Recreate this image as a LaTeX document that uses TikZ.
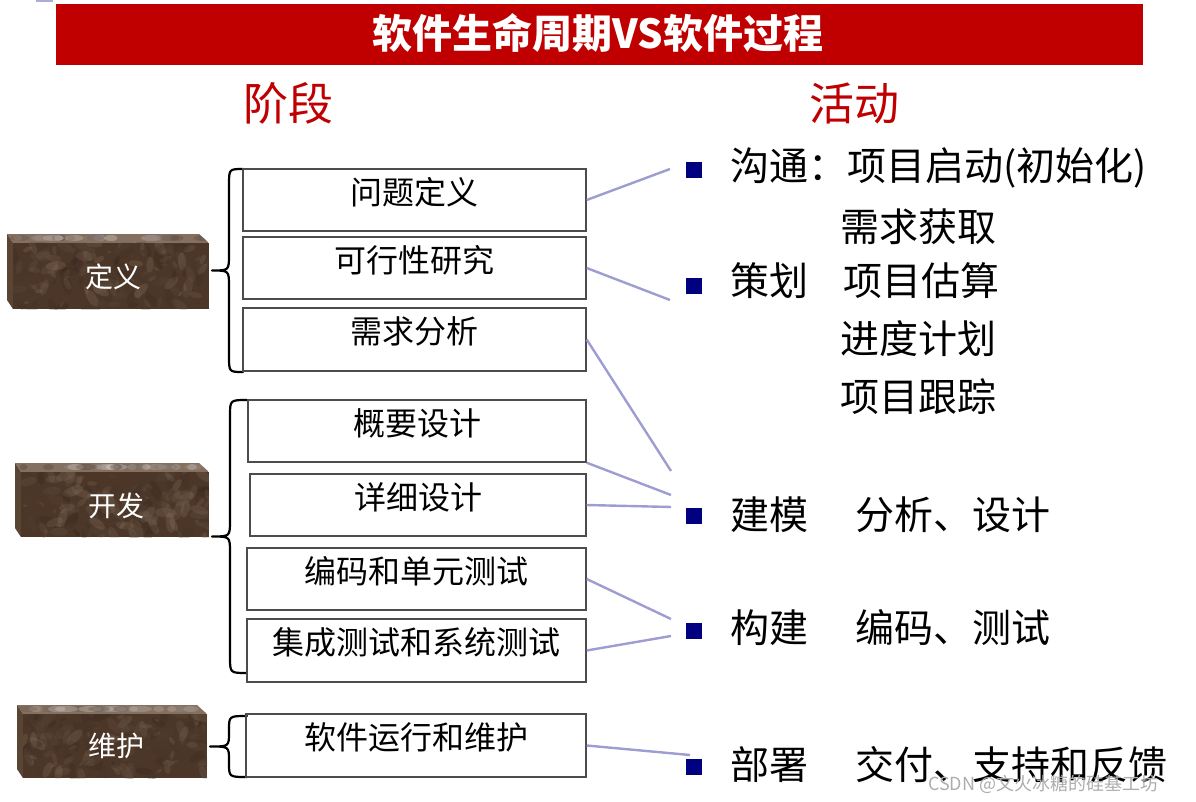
\documentclass[tikz,border=0pt]{standalone}
\usepackage{fontspec}
\setmainfont{Noto Sans CJK SC}
\definecolor{titlered}{HTML}{C00000}
\definecolor{navyb}{HTML}{000080}
\definecolor{linkc}{HTML}{9D9DD2}
\definecolor{mbase}{HTML}{4B3628}
\definecolor{mdark}{HTML}{2B1D15}
\definecolor{mlight}{HTML}{9C8670}
\definecolor{mtop}{HTML}{857060}
\definecolor{mside}{HTML}{5A4433}
\definecolor{marklav}{HTML}{AAAADC}
\newcommand\marbleblock[4]{%
  \begin{scope}
    \clip (#1-6,#2-9) -- (#3-10,#2-9) -- (#3,#2) -- (#1,#2) -- cycle;
    \fill[mtop] (#1-6,#2-9) rectangle (#3,#2);
    \foreach \k in {1,...,25}{%
      \pgfmathsetmacro\px{#1+rnd*(#3-#1)}%
      \pgfmathsetmacro\pr{4+rnd*8}%
      \pgfmathtruncatemacro\pc{rnd*100}%
      \fill[white!\pc!mdark, opacity=0.25] (\px,#2-5) ellipse [x radius=\pr, y radius=3];
    }
  \end{scope}
  \fill[mside] (#1-6,#2-9) -- (#1,#2) -- (#1,#4) -- (#1-6,#4-9) -- cycle;
  \begin{scope}
    \clip (#1,#2) rectangle (#3,#4);
    \fill[mbase] (#1,#2) rectangle (#3,#4);
    \foreach \k in {1,...,160}{%
      \pgfmathsetmacro\px{#1+rnd*(#3-#1)}%
      \pgfmathsetmacro\py{#2+rnd*(#4-#2)}%
      \pgfmathsetmacro\pr{2+rnd*9}%
      \pgfmathsetmacro\pa{rnd*180}%
      \pgfmathtruncatemacro\pc{rnd*100}%
      \fill[mlight!\pc!mdark, opacity=0.22, rotate around={\pa:(\px,\py)}] (\px,\py) ellipse [x radius=\pr, y radius=0.45*\pr];
    }
  \end{scope}}
\newcommand\curlybrace[6]{%
  \pgfmathsetmacro\ym{(#2+#3)/2}%
  \draw[bracestyle] (#1,#2) .. controls (#4,#2) .. (#4,#2+#6) -- (#4,\ym-#6) .. controls (#4,\ym) .. (#5,\ym) .. controls (#4,\ym) .. (#4,\ym+#6) -- (#4,#3-#6) .. controls (#4,#3) .. (#1,#3);}
\begin{document}
\begin{tikzpicture}[x=1pt,y=-1pt,
  proc/.style={draw=black!70, line width=1.4pt, inner sep=0pt, minimum height=62pt,
    font=\fontsize{32}{36}\selectfont, text height=0.9em, text depth=0.05em},
  act/.style={anchor=west, inner sep=0pt, font=\fontsize{39}{44}\selectfont},
  sqbullet/.style={fill=navyb, minimum size=16pt, inner sep=0pt},
  link/.style={draw=linkc, line width=2.4pt},
  stagetext/.style={text=white, font=\fontsize{28}{32}\selectfont, inner sep=0pt},
  headtext/.style={text=titlered, font=\fontsize{45}{50}\selectfont, inner sep=0pt},
  bracestyle/.style={line width=2.2pt, black, line cap=round, line join=round}]
\useasboundingbox (0,0) rectangle (1196,802);
\pgfmathsetseed{42}
% top-left mark
\fill[marklav] (36,0) rectangle (53,2.5);
% title bar
\fill[titlered] (56,4) rectangle (1143,65);
\node[text=white, font=\fontsize{40}{44}\selectfont\bfseries, inner sep=0pt] (title) at (598,33) {软件生命周期VS软件过程};
% headings
\node[headtext] (h1) at (288,103) {阶段};
\node[headtext] (h2) at (854,103) {活动};
% stage blocks
\marbleblock{13}{243}{209}{309}
\marbleblock{21}{472}{209}{537}
\marbleblock{23}{714}{207}{778}
\node[stagetext] (s1) at (113,277) {定义};
\node[stagetext] (s2) at (116,506) {开发};
\node[stagetext] (s3) at (116,746) {维护};
% braces
\curlybrace{243}{169}{372}{229}{212}{16}
\curlybrace{247}{400}{673}{230}{212}{16}
\curlybrace{247}{716}{777}{229}{210}{14}
% process boxes
\node[proc, minimum width=343pt] (b1) at (414.5,200) {问题定义};
\node[proc, minimum width=343pt] (b2) at (414.5,268) {可行性研究};
\node[proc, minimum width=343pt, minimum height=63pt] (b3) at (414.5,339.5) {需求分析};
\node[proc, minimum width=338pt] (b4) at (417,431) {概要设计};
\node[proc, minimum width=336pt] (b5) at (418,505) {详细设计};
\node[proc, minimum width=339pt] (b6) at (416.5,579) {编码和单元测试};
\node[proc, minimum width=339pt, minimum height=63pt] (b7) at (416.5,650.5) {集成测试和系统测试};
\node[proc, minimum width=340pt, minimum height=63pt] (b8) at (416,745.5) {软件运行和维护};
% connector ends
\coordinate (e1) at (670,169);
\coordinate (e2) at (670,300);
\coordinate (e3) at (671,471);
\coordinate (e4) at (671,495);
\coordinate (e5) at (671,507);
\coordinate (e6) at (671,619);
\coordinate (e7) at (671,636);
\coordinate (e8) at (690,755);
\draw[link] (b1.east) -- (e1);
\draw[link] (b2.east) -- (e2);
\draw[link] (b3.east) -- (e3);
\draw[link] (b4.south east) -- (e4);
\draw[link] (b5.east) -- (e5);
\draw[link] (b6.east) -- (e6);
\draw[link] (b7.east) -- (e7);
\draw[link] (b8.east) -- (e8);
% bullets
\node[sqbullet] (q1) at (694,170) {};
\node[sqbullet] (q2) at (694,286) {};
\node[sqbullet] (q3) at (694,516) {};
\node[sqbullet] (q4) at (694,631) {};
\node[sqbullet] (q5) at (694,767) {};
% activity texts
\node[act] (t1) at (730,168) {沟通：项目启动(初始化)};
\node[act] (t1b) at (840,227) {需求获取};
\node[act] (t2) at (730,281) {策划};
\node[act] (t2a) at (843,281) {项目估算};
\node[act] (t2b) at (840,339) {进度计划};
\node[act] (t2c) at (840,397) {项目跟踪};
\node[act] (t3) at (730,515) {建模};
\node[act] (t3a) at (855,515) {分析、设计};
\node[act] (t4) at (730,628) {构建};
\node[act] (t4a) at (855,628) {编码、测试};
\node[act] (t5) at (730,765) {部署};
\node[act] (t5a) at (855,765) {交付、支持和反馈};
% watermark
\node[anchor=west, inner sep=0pt, text=black!32, font=\fontsize{18}{20}\selectfont] (wm) at (928,784) {CSDN @文火冰糖的硅基工坊};
\end{tikzpicture}
\end{document}
